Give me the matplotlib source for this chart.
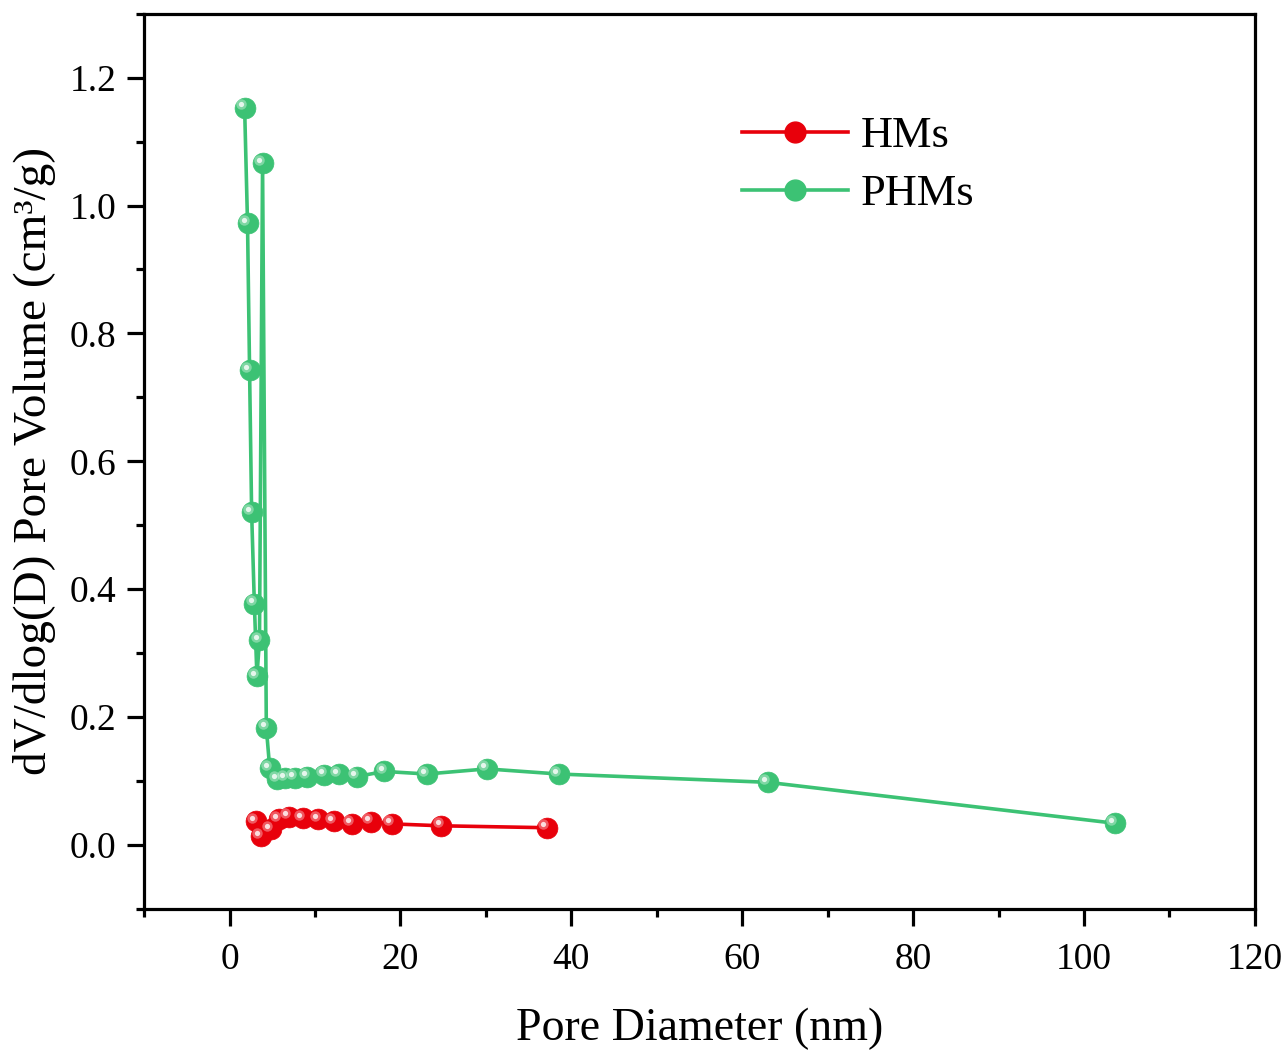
import matplotlib
matplotlib.use("Agg")
import matplotlib.pyplot as plt
import matplotlib.transforms as mtransforms
from matplotlib.lines import Line2D
from matplotlib.ticker import MultipleLocator

plt.rcParams['font.family'] = ['Liberation Serif', 'DejaVu Serif']

# Pore size distribution data (BJH)
hms_d = [3.04, 3.63, 4.8, 5.74, 6.9, 8.55, 10.4, 12.2, 14.3, 16.5, 19.0, 24.8, 37.1]
hms_v = [0.0375, 0.014, 0.025, 0.040, 0.044, 0.042, 0.040, 0.037, 0.033, 0.036, 0.033, 0.030, 0.027]

phms_d = [1.76, 2.1, 2.34, 2.58, 2.9, 3.2, 3.5, 3.86, 4.3, 4.7, 5.6, 6.5, 7.6,
          9.1, 11.1, 12.8, 14.9, 18.1, 23.1, 30.1, 38.5, 63.0, 103.6]
phms_v = [1.153, 0.972, 0.742, 0.520, 0.377, 0.264, 0.320, 1.066, 0.183, 0.120,
          0.103, 0.104, 0.105, 0.107, 0.110, 0.111, 0.107, 0.115, 0.111, 0.119,
          0.111, 0.098, 0.034]

RED = '#e8000b'
GREEN = '#3cc274'
MS = 15
LW = 2.6

fig = plt.figure(figsize=(12.87, 10.52), dpi=100)
ax = fig.add_axes([0.112, 0.136, 0.863, 0.851])

hl = mtransforms.offset_copy(ax.transData, fig=fig, x=-2.5, y=2.5, units='points')


def sphere_series(x, y, color, label):
    ax.plot(x, y, '-', color=color, lw=LW, zorder=2)
    ax.plot(x, y, 'o', color=color, ms=MS, mec=color, mew=0.5, zorder=3, label=label)
    ax.plot(x, y, 'o', color='white', ms=MS * 0.5, mew=0, alpha=0.35,
            transform=hl, zorder=4)
    ax.plot(x, y, 'o', color='white', ms=MS * 0.25, mew=0, alpha=0.8,
            transform=hl, zorder=5)


sphere_series(phms_d, phms_v, GREEN, 'PHMs')
sphere_series(hms_d, hms_v, RED, 'HMs')

ax.set_xlim(-10, 120)
ax.set_ylim(-0.1, 1.3)
ax.xaxis.set_major_locator(MultipleLocator(20))
ax.xaxis.set_minor_locator(MultipleLocator(10))
ax.yaxis.set_major_locator(MultipleLocator(0.2))
ax.yaxis.set_minor_locator(MultipleLocator(0.1))
ax.yaxis.set_major_formatter(plt.FuncFormatter(lambda v, p: f'{v:.1f}'))

for s in ax.spines.values():
    s.set_linewidth(2.3)
ax.tick_params(which='major', direction='out', length=12, width=2.3,
               labelsize=27, pad=8)
ax.tick_params(axis='x', which='major', pad=12)
ax.tick_params(which='minor', direction='out', length=6, width=2.3)
ax.tick_params(top=False, right=False, which='both')

ax.set_xlabel('Pore Diameter (nm)', fontsize=33, labelpad=22)
ax.set_ylabel('dV/dlog(D) Pore Volume (cm³/g)', fontsize=34, labelpad=10)


def handle(color):
    return Line2D([], [], color=color, lw=LW, marker='o', ms=MS, mec=color)


ax.legend([handle(RED), handle(GREEN)], ['HMs', 'PHMs'], loc='upper left',
          bbox_to_anchor=(0.502, 0.93), frameon=False, fontsize=32,
          handlelength=2.4, handletextpad=0.27, labelspacing=0.4)

fig.savefig('out.png', dpi=100)
